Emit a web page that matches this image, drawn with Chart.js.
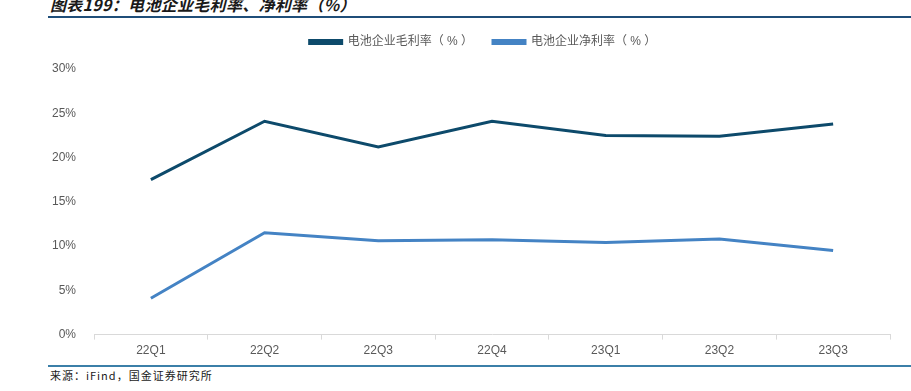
<!DOCTYPE html>
<html>
<head>
<meta charset="utf-8">
<script src="https://cdn.jsdelivr.net/npm/chart.js@4.4.0/dist/chart.umd.min.js"></script>
<style>
    html, body { margin: 0; padding: 0; background: #fff; }
    body { width: 911px; height: 391px; position: relative; overflow: hidden; font-family: "Noto Sans CJK SC", "Liberation Sans", sans-serif; }
    #titulo { position: absolute; left: 50px; top: -8px; font-size: 16px; font-weight: bold; font-style: italic; color: #1a1a1a; white-space: nowrap; letter-spacing: 0.3px; }
    #lineaTop { position: absolute; left: 48px; top: 16px; width: 863px; height: 2px; background: #1f4e79; }
    #lineaBottom { position: absolute; left: 48px; top: 365px; width: 863px; height: 2px; background: #3b7fa8; }
    #fuente { position: absolute; left: 50px; top: 367px; font-size: 11px; color: #1a1a1a; white-space: nowrap; letter-spacing: 1px; }
    #wrap { position: absolute; left: 0; top: 16px; width: 911px; height: 346px; }
</style>
</head>
<body>
<div id="titulo">图表199：电池企业毛利率、净利率（%）</div>
<div id="lineaTop"></div>
<div id="wrap"><canvas id="grafico"></canvas></div>
<div id="lineaBottom"></div>
<div id="fuente">来源：iFind，国金证券研究所</div>
<script>
// Datos
const trimestres = ['22Q1', '22Q2', '22Q3', '22Q4', '23Q1', '23Q2', '23Q3'];
const margenBruto = [17.5, 24.1, 21.2, 24.1, 22.5, 22.4, 23.8];
const margenNeto = [4.1, 11.5, 10.6, 10.7, 10.4, 10.8, 9.5];
const ticksY = [0, 5, 10, 15, 20, 25, 30];

const fuente = '"Liberation Sans", "Noto Sans CJK SC", sans-serif';

// Margen extra debajo de la leyenda y desplazamiento a la derecha
const margenLeyenda = {
    id: 'margenLeyenda',
    beforeInit(chart) {
        const fitOriginal = chart.legend.fit;
        chart.legend.fit = function () {
            fitOriginal.bind(chart.legend)();
            this.height += 11;
        };
    },
    afterLayout(chart) {
        chart.legend.left += 17;
        chart.legend.right += 17;
    }
};

new Chart(document.getElementById('grafico'), {
    type: 'line',
    data: {
        labels: trimestres,
        datasets: [{
            label: '电池企业毛利率（ % ）',
            data: margenBruto,
            borderColor: '#0d4a6b',
            backgroundColor: '#0d4a6b',
            borderWidth: 3,
            pointRadius: 0,
            tension: 0
        }, {
            label: '电池企业净利率（ % ）',
            data: margenNeto,
            borderColor: '#4483c4',
            backgroundColor: '#4483c4',
            borderWidth: 3,
            pointRadius: 0,
            tension: 0
        }]
    },
    options: {
        responsive: true,
        maintainAspectRatio: false,
        animation: false,
        layout: { padding: { left: 42, right: 21, top: 0, bottom: 0 } },
        plugins: {
            legend: {
                position: 'top',
                labels: {
                    boxWidth: 32,
                    boxHeight: 3,
                    color: '#595959',
                    font: { family: fuente, size: 12 },
                    padding: 20
                }
            },
            tooltip: { enabled: false }
        },
        scales: {
            x: {
                offset: true,
                grid: { display: true, drawOnChartArea: false, drawTicks: true, tickLength: 5, color: '#d9d9d9', offset: true },
                border: { display: true, color: '#d9d9d9', width: 1 },
                ticks: { color: '#595959', font: { family: fuente, size: 12 }, padding: 4 }
            },
            y: {
                min: 0,
                max: 30,
                afterBuildTicks: (axis) => { axis.ticks = ticksY.map(v => ({ value: v })); },
                grid: { display: false },
                border: { display: false },
                ticks: {
                    color: '#595959',
                    font: { family: fuente, size: 12 },
                    padding: 10,
                    callback: (v) => v + '%'
                }
            }
        }
    },
    plugins: [margenLeyenda]
});
</script>
</body>
</html>
